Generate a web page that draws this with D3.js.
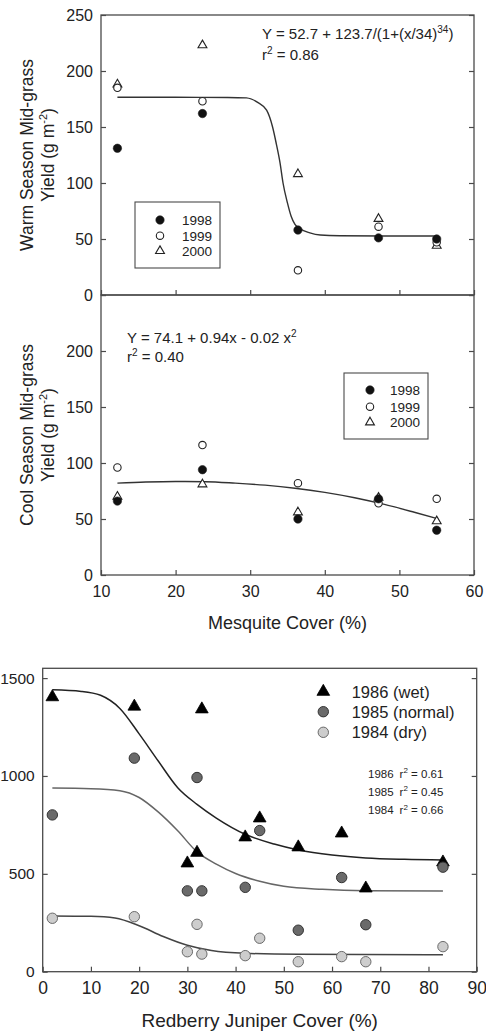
<!DOCTYPE html>
<html>
<head>
<meta charset="utf-8">
<script src="https://cdn.jsdelivr.net/npm/d3@7"></script>
<style>
  html, body { margin: 0; padding: 0; background: #fff; }
  svg { display: block; font-family: "Liberation Sans", Arial, sans-serif; }
</style>
</head>
<body>
<svg id="chart" width="486" height="1032"></svg>
<script>
// ---------- Data ----------
const mesquiteX = [12.2, 23.6, 36.4, 47.2, 55];
const warm1998 = [131, 162, 58, 51, 50];
const warm1999 = [185, 173, 22, 61, 47];
const warm2000 = [188, 223, 108, 68, 44];
const cool1998 = [66, 94, 50, 68, 40];
const cool1999 = [96, 116, 82, 64, 68];
const cool2000 = [70, 81, 56, 69, 48];

// fitted curves
const warmFitX = [12.2, 20, 27, 29.5, 31, 32.2, 33, 33.5, 34, 34.4, 35, 35.5, 36, 36.7, 38, 39.4, 42, 48, 55];
const warmFitY = [176.5, 176.5, 176.4, 176, 172, 165, 150, 135, 118, 100, 82, 70, 63, 59, 55.5, 53.6, 52.9, 52.7, 52.7];
const coolFitX = [12.2, 16, 20, 24, 28, 32, 36, 40, 44, 48, 52, 55];
const coolFitY = [82, 83, 83.5, 83.3, 82, 80.2, 77.5, 73.8, 69, 63, 56, 50.5];

const juniperX = [2, 19, 30, 32, 33, 42, 45, 53, 62, 67, 83];
const y1986 = [1403, 1355, 554, 608, 1341, 687, 784, 636, 707, 426, 559];
const y1985 = [801, 1091, 413, 992, 413, 431, 721, 212, 481, 240, 534];
const y1984 = [273, 281, 102, 242, 90, 82, 171, 51, 77, 51, 128];

const fit1986X = [2, 8, 12, 16, 20, 24, 28, 32, 36, 42, 48, 53, 60, 67, 75, 83];
const fit1986Y = [1440, 1432, 1412, 1345, 1215, 1075, 940, 855, 785, 702, 652, 622, 596, 581, 574, 571];
const fit1985X = [2, 10, 16, 20, 24, 28, 32, 36, 40, 45, 50, 58, 67, 83];
const fit1985Y = [938, 935, 925, 890, 815, 720, 612, 550, 502, 462, 436, 421, 414, 412];
const fit1984X = [2, 10, 15, 20, 25, 30, 35, 42, 53, 83];
const fit1984Y = [285, 283, 274, 235, 180, 135, 108, 94, 89, 87];

const mesquiteTicks = [10, 20, 30, 40, 50, 60];
const warmTicks = [0, 50, 100, 150, 200, 250];
const coolTicks = [0, 50, 100, 150, 200, 250];
const coolTickLabels = [0, 50, 100, 150, 200];
const juniperTicks = [0, 10, 20, 30, 40, 50, 60, 70, 80, 90];
const yieldTicks = [0, 500, 1000, 1500];

const yearsTop = ["1998", "1999", "2000"];
const yearsBottom = ["1986 (wet)", "1985 (normal)", "1984 (dry)"];
const r2Years = ["1986", "1985", "1984"];
const r2Values = ["0.61", "0.45", "0.66"];

// ---------- Setup ----------
const svg = d3.select("#chart");
const frameColor = "#4a4a4a";
const textColor = "#222";

const xTop = d3.scaleLinear([10, 60], [101, 474]);
const yWarm = d3.scaleLinear([0, 250], [295, 15]);
const yCool = d3.scaleLinear([0, 250], [575, 295]);
const xBot = d3.scaleLinear([0, 90], [42.7, 476.7]);
const yBot = d3.scaleLinear([0, 1550], [971.7, 668.3]);

function styleAxis(g, fs) {
  g.select(".domain").remove();
  g.selectAll(".tick line").attr("stroke", frameColor).attr("stroke-width", 1.2);
  g.selectAll(".tick text").attr("fill", textColor).style("font-size", fs + "px").style("font-family", "'Liberation Sans', Arial, sans-serif");
}

function frame(x, y0, y1, xs) {
  svg.append("rect")
    .attr("x", xs.range()[0]).attr("y", y1)
    .attr("width", xs.range()[1] - xs.range()[0]).attr("height", y0 - y1)
    .attr("fill", "none").attr("stroke", frameColor).attr("stroke-width", 1.3);
}

const lineGen = (xs, ys) => d3.line().x(d => xs(d[0])).y(d => ys(d[1])).curve(d3.curveMonotoneX);

// ---------- Top panel (warm season) ----------
svg.append("g").attr("transform", "translate(101,0)")
  .call(d3.axisLeft(yWarm).tickValues(warmTicks).tickSizeInner(-5).tickSizeOuter(0).tickPadding(8))
  .call(g => styleAxis(g, 16));
svg.append("g").attr("transform", "translate(474,0)")
  .call(d3.axisRight(yWarm).tickValues(warmTicks).tickSizeInner(-5).tickSizeOuter(0).tickFormat(""))
  .call(g => styleAxis(g, 16));
svg.append("g").attr("transform", "translate(0,295)")
  .call(d3.axisBottom(xTop).tickValues(mesquiteTicks).tickSizeInner(-5).tickSizeOuter(0).tickFormat(""))
  .call(g => styleAxis(g, 16));
frame(0, 295, 15, xTop);

svg.append("path")
  .datum(warmFitX.map((x, i) => [x, warmFitY[i]]))
  .attr("d", lineGen(xTop, yWarm))
  .attr("fill", "none").attr("stroke", "#333").attr("stroke-width", 1.4);

function drawTopSeries(ys, vals, type) {
  const pts = mesquiteX.map((x, i) => [x, vals[i]]);
  if (type === "tri") {
    svg.append("g").selectAll("path").data(pts).join("path")
      .attr("transform", d => `translate(${xTop(d[0])},${ys(d[1])})`)
      .attr("d", d3.symbol(d3.symbolTriangle, 34))
      .attr("fill", "#fff").attr("stroke", "#222").attr("stroke-width", 1.1);
  } else {
    svg.append("g").selectAll("circle").data(pts).join("circle")
      .attr("cx", d => xTop(d[0])).attr("cy", d => ys(d[1]))
      .attr("r", type === "filled" ? 4.2 : 3.7)
      .attr("fill", type === "filled" ? "#111" : "#fff")
      .attr("stroke", "#222").attr("stroke-width", type === "filled" ? 0.6 : 1.1);
  }
}
drawTopSeries(yWarm, warm2000, "tri");
drawTopSeries(yWarm, warm1999, "open");
drawTopSeries(yWarm, warm1998, "filled");

// equation
const eq1 = svg.append("text").attr("x", 262).attr("y", 39).attr("fill", textColor).style("font-size", "15px");
eq1.append("tspan").text("Y = 52.7 + 123.7/(1+(x/34)");
eq1.append("tspan").attr("dy", -6).style("font-size", "10px").text("34");
eq1.append("tspan").attr("dy", 6).text(")");
const r1 = svg.append("text").attr("x", 262).attr("y", 60).attr("fill", textColor).style("font-size", "15px");
r1.append("tspan").text("r");
r1.append("tspan").attr("dy", -6).style("font-size", "10px").text("2");
r1.append("tspan").attr("dy", 6).text(" = 0.86");

// legend
function topLegend(x0, y0, w, h, rows, symX, txtX) {
  svg.append("rect").attr("x", x0).attr("y", y0).attr("width", w).attr("height", h)
    .attr("fill", "#fff").attr("stroke", frameColor).attr("stroke-width", 1.1);
  const types = ["filled", "open", "tri"];
  yearsTop.forEach((yr, i) => {
    const cy = rows[i];
    if (types[i] === "tri") {
      svg.append("path").attr("transform", `translate(${symX},${cy})`)
        .attr("d", d3.symbol(d3.symbolTriangle, 34))
        .attr("fill", "#fff").attr("stroke", "#222").attr("stroke-width", 1.1);
    } else {
      svg.append("circle").attr("cx", symX).attr("cy", cy)
        .attr("r", types[i] === "filled" ? 4.2 : 3.7)
        .attr("fill", types[i] === "filled" ? "#111" : "#fff")
        .attr("stroke", "#222").attr("stroke-width", types[i] === "filled" ? 0.6 : 1.1);
    }
    svg.append("text").attr("x", txtX).attr("y", cy).attr("dy", "0.36em")
      .attr("fill", textColor).style("font-size", "13.5px").text(yr);
  });
}
topLegend(135, 202, 85, 66, [220, 235.7, 251], 160, 182);

// y title
function yTitle(cy, line1) {
  svg.append("text").attr("transform", `translate(33,${cy}) rotate(-90)`)
    .attr("text-anchor", "middle").attr("fill", textColor).style("font-size", "17.5px").text(line1);
  const t2 = svg.append("text").attr("transform", `translate(54,${cy}) rotate(-90)`)
    .attr("text-anchor", "middle").attr("fill", textColor).style("font-size", "17.5px");
  t2.append("tspan").text("Yield (g m");
  t2.append("tspan").attr("dy", -7).style("font-size", "11px").text("-2");
  t2.append("tspan").attr("dy", 7).text(")");
}
yTitle(155, "Warm Season Mid-grass");

// ---------- Middle panel (cool season) ----------
svg.append("g").attr("transform", "translate(101,0)")
  .call(d3.axisLeft(yCool).tickValues(coolTicks).tickSizeInner(-5).tickSizeOuter(0).tickPadding(8)
    .tickFormat(d => coolTickLabels.includes(d) ? d : ""))
  .call(g => styleAxis(g, 16));
svg.append("g").attr("transform", "translate(474,0)")
  .call(d3.axisRight(yCool).tickValues(coolTicks).tickSizeInner(-5).tickSizeOuter(0).tickFormat(""))
  .call(g => styleAxis(g, 16));
svg.append("g").attr("transform", "translate(0,575)")
  .call(d3.axisBottom(xTop).tickValues(mesquiteTicks).tickSizeInner(-5).tickSizeOuter(0).tickPadding(11))
  .call(g => styleAxis(g, 16));
frame(0, 575, 295, xTop);

svg.append("path")
  .datum(coolFitX.map((x, i) => [x, coolFitY[i]]))
  .attr("d", lineGen(xTop, yCool))
  .attr("fill", "none").attr("stroke", "#333").attr("stroke-width", 1.4);

drawTopSeries(yCool, cool2000, "tri");
drawTopSeries(yCool, cool1999, "open");
drawTopSeries(yCool, cool1998, "filled");

const eq2 = svg.append("text").attr("x", 127).attr("y", 343).attr("fill", textColor).style("font-size", "15px");
eq2.append("tspan").text("Y = 74.1 + 0.94x - 0.02 x");
eq2.append("tspan").attr("dy", -6).style("font-size", "10px").text("2");
const r2t = svg.append("text").attr("x", 127).attr("y", 362).attr("fill", textColor).style("font-size", "15px");
r2t.append("tspan").text("r");
r2t.append("tspan").attr("dy", -6).style("font-size", "10px").text("2");
r2t.append("tspan").attr("dy", 6).text(" = 0.40");

topLegend(344, 373, 84, 66, [390, 406.7, 422.3], 370, 390);
yTitle(435, "Cool Season Mid-grass");

svg.append("text").attr("x", 287.5).attr("y", 629).attr("text-anchor", "middle")
  .attr("fill", textColor).style("font-size", "18px").text("Mesquite Cover (%)");

// ---------- Bottom panel (juniper) ----------
svg.append("g").attr("transform", "translate(42.7,0)")
  .call(d3.axisLeft(yBot).tickValues(yieldTicks).tickSizeInner(-5).tickSizeOuter(0).tickPadding(8)
    .tickFormat(d3.format("d")))
  .call(g => styleAxis(g, 15.5));
svg.append("g").attr("transform", "translate(476.7,0)")
  .call(d3.axisRight(yBot).tickValues(yieldTicks).tickSizeInner(-5).tickSizeOuter(0).tickFormat(""))
  .call(g => styleAxis(g, 15.5));
svg.append("g").attr("transform", "translate(0,971.7)")
  .call(d3.axisBottom(xBot).tickValues(juniperTicks).tickSizeInner(-5).tickSizeOuter(0).tickPadding(10))
  .call(g => styleAxis(g, 17.5));
frame(0, 971.7, 668.3, xBot);

const fits = [
  { xs: fit1986X, ys: fit1986Y, color: "#222" },
  { xs: fit1985X, ys: fit1985Y, color: "#666" },
  { xs: fit1984X, ys: fit1984Y, color: "#444" }
];
fits.forEach(f => {
  svg.append("path")
    .datum(f.xs.map((x, i) => [x, f.ys[i]]))
    .attr("d", lineGen(xBot, yBot))
    .attr("fill", "none").attr("stroke", f.color).attr("stroke-width", 1.5);
});

const c1985 = { fill: "#6a6a6a", stroke: "#333" };
const c1984 = { fill: "#cdcdcd", stroke: "#6a6a6a" };

svg.append("g").selectAll("path").data(juniperX.map((x, i) => [x, y1986[i]])).join("path")
  .attr("transform", d => `translate(${xBot(d[0])},${yBot(d[1])})`)
  .attr("d", d3.symbol(d3.symbolTriangle, 70))
  .attr("fill", "#000").attr("stroke", "#000").attr("stroke-width", 0.8);
svg.append("g").selectAll("circle").data(juniperX.map((x, i) => [x, y1985[i]])).join("circle")
  .attr("cx", d => xBot(d[0])).attr("cy", d => yBot(d[1])).attr("r", 5.2)
  .attr("fill", c1985.fill).attr("stroke", c1985.stroke).attr("stroke-width", 1);
svg.append("g").selectAll("circle").data(juniperX.map((x, i) => [x, y1984[i]])).join("circle")
  .attr("cx", d => xBot(d[0])).attr("cy", d => yBot(d[1])).attr("r", 5.2)
  .attr("fill", c1984.fill).attr("stroke", c1984.stroke).attr("stroke-width", 1);

// bottom legend
const legY = [691.7, 711.7, 732.3];
svg.append("path").attr("transform", `translate(323.3,${legY[0]})`)
  .attr("d", d3.symbol(d3.symbolTriangle, 70)).attr("fill", "#000").attr("stroke", "#000").attr("stroke-width", 0.8);
svg.append("circle").attr("cx", 323.3).attr("cy", legY[1]).attr("r", 5.2)
  .attr("fill", c1985.fill).attr("stroke", c1985.stroke);
svg.append("circle").attr("cx", 323.3).attr("cy", legY[2]).attr("r", 5.2)
  .attr("fill", c1984.fill).attr("stroke", c1984.stroke);
yearsBottom.forEach((t, i) => {
  svg.append("text").attr("x", 351.7).attr("y", legY[i]).attr("dy", "0.36em")
    .attr("fill", textColor).style("font-size", "16.5px").text(t);
});

const r2Y = [777.7, 795.7, 814];
r2Years.forEach((yr, i) => {
  const t = svg.append("text").attr("x", 368).attr("y", r2Y[i]).attr("fill", textColor).style("font-size", "11.5px");
  t.append("tspan").text(yr);
  t.append("tspan").attr("dx", 6).text("r");
  t.append("tspan").attr("dy", -4.5).style("font-size", "8px").text("2");
  t.append("tspan").attr("dy", 4.5).text(" = " + r2Values[i]);
});

svg.append("text").attr("x", 259.7).attr("y", 1027).attr("text-anchor", "middle")
  .attr("fill", textColor).style("font-size", "19px").text("Redberry Juniper Cover (%)");
</script>
</body>
</html>
